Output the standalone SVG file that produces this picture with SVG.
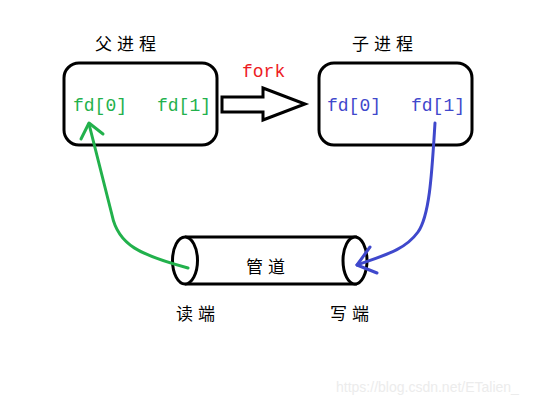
<svg xmlns="http://www.w3.org/2000/svg" width="555" height="405" viewBox="0 0 555 405">
<style>
.box{fill:#fff;stroke:#000;stroke-width:3}
.cn{font-family:"Noto Sans CJK SC","Noto Sans",sans-serif;font-size:17px;fill:#000;letter-spacing:5px}
.fd{font-family:"Liberation Mono",monospace;font-size:18px}
.g{fill:#22b14c}
.b{fill:#3f48cc}
.line{fill:none;stroke-width:3;stroke-linecap:round;stroke-linejoin:round}
</style>
<rect width="555" height="405" fill="#fff"/>
<g id="parent">
<rect class="box" x="64" y="63" width="153" height="82" rx="15"/>
<text class="cn" x="95" y="50">父进程</text>
<text class="fd g" x="73" y="111">fd[0]</text>
<text class="fd g" x="157" y="111">fd[1]</text>
</g>
<g id="child">
<rect class="box" x="319" y="63" width="153" height="82" rx="15"/>
<text class="cn" x="352" y="50">子进程</text>
<text class="fd b" x="327" y="111">fd[0]</text>
<text class="fd b" x="411" y="111">fd[1]</text>
</g>
<g id="pipe">
<path d="M185,237 L357,237 M185,284 L357,284" stroke="#000" stroke-width="3" fill="none"/>
<ellipse cx="185" cy="260.5" rx="12.5" ry="23.5" fill="#fff" stroke="#000" stroke-width="3"/>
<ellipse cx="355" cy="260.5" rx="12" ry="23.5" fill="#fff" stroke="#000" stroke-width="3"/>
<text class="cn" x="246" y="273">管道</text>
</g>
<g id="labels">
<text class="cn" x="176" y="320">读端</text>
<text class="cn" x="330" y="320">写端</text>
</g>
<g id="connectors">
<g id="fork">
<path d="M222,97 L263,97 L263,88 L305,104 L263,120 L263,112 L222,112 Z" fill="#fff" stroke="#000" stroke-width="3" stroke-linejoin="miter"/>
<text x="242" y="77" font-family="Liberation Mono,monospace" font-size="18" fill="#ed1c24">fork</text>
</g>
<g id="read" stroke="#22b14c">
<path class="line" d="M188,268 C140,255 118,245 112,215 L89,124"/>
<path class="line" d="M81,139 L89,123 L103,134"/>
</g>
<g id="write" stroke="#3f48cc">
<path class="line" d="M435,123 C432,170 430,215 418,232 C405,250 385,255 357,265"/>
<path class="line" d="M370,247 L357,265 L377,273"/>
</g>
</g>
<text x="336" y="392" font-family="Liberation Sans,Arial,sans-serif" font-size="14" fill="#ececec">https://blog.csdn.net/ETalien_</text>
</svg>
